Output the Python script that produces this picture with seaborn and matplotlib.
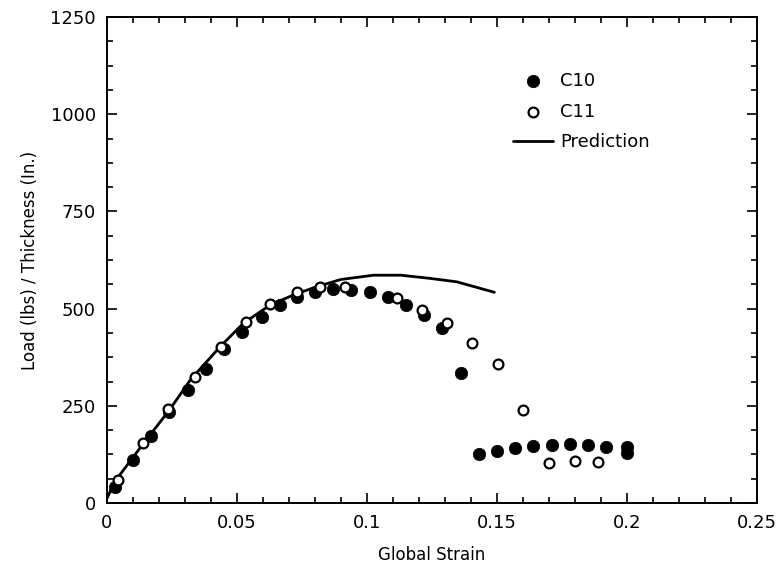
import numpy as np
import pandas as pd
import seaborn as sns
import matplotlib.pyplot as plt
from matplotlib.ticker import MultipleLocator

# specimen C10 (filled)
c10_strain = [0.003, 0.010, 0.017, 0.024, 0.031, 0.038, 0.045, 0.052, 0.0595, 0.0665,
              0.073, 0.080, 0.087, 0.094, 0.101, 0.108, 0.115, 0.122, 0.129, 0.136,
              0.143, 0.150, 0.157, 0.164, 0.171, 0.178, 0.185, 0.192, 0.200, 0.200]
c10_load = [42, 110, 172, 235, 290, 346, 395, 441, 479, 509,
            529, 542, 550, 548, 543, 531, 509, 484, 451, 334,
            125, 134, 142, 147, 149, 151, 149, 145, 145, 129]

# specimen C11 (open)
c11_strain = [0.0044, 0.0137, 0.0236, 0.034, 0.044, 0.0533, 0.0627, 0.073, 0.082, 0.0915,
              0.1114, 0.1213, 0.1307, 0.1405, 0.1503, 0.160, 0.170, 0.180, 0.189]
c11_load = [59, 155, 243, 325, 402, 466, 512, 542, 555, 556,
            528, 496, 462, 411, 357, 239, 102, 109, 106]

# prediction curve
pred_strain = [0.0, 0.003, 0.014, 0.024, 0.032, 0.0435, 0.0524, 0.0627, 0.073, 0.083,
               0.090, 0.1025, 0.113, 0.124, 0.1345, 0.149]
pred_load = [12, 55, 153, 239, 316, 402, 462, 509, 539, 561,
             575, 586, 586, 578, 569, 542]

c10 = pd.DataFrame({'strain': c10_strain, 'load': c10_load})
c11 = pd.DataFrame({'strain': c11_strain, 'load': c11_load})
pred = pd.DataFrame({'strain': pred_strain, 'load': pred_load})

sns.set_style('ticks')
plt.rcParams['font.family'] = ['DejaVu Sans']
plt.rcParams['text.color'] = 'black'
plt.rcParams['axes.labelcolor'] = 'black'
plt.rcParams['xtick.color'] = 'black'
plt.rcParams['ytick.color'] = 'black'

fig = plt.figure(figsize=(7.78, 5.68), dpi=100)
ax = fig.add_axes([0.1375, 0.1144, 0.8355, 0.8556])

sns.scatterplot(x='strain', y='load', data=c10, ax=ax, color='black', s=80,
                edgecolor='black', linewidth=0.5, label='C10', zorder=3)
sns.scatterplot(x='strain', y='load', data=c11, ax=ax, facecolor='white', s=50,
                edgecolor='black', linewidth=1.6, label='C11', zorder=4)
sns.lineplot(x='strain', y='load', data=pred, ax=ax, color='black', linewidth=2,
             label='Prediction', sort=False, zorder=2)

ax.set_xlim(0, 0.25)
ax.set_ylim(0, 1250)
ax.xaxis.set_major_locator(MultipleLocator(0.05))
ax.xaxis.set_minor_locator(MultipleLocator(0.01))
ax.yaxis.set_major_locator(MultipleLocator(250))
ax.yaxis.set_minor_locator(MultipleLocator(62.5))
ax.set_xticks([0, 0.05, 0.1, 0.15, 0.2, 0.25])
ax.set_xticklabels(['0', '0.05', '0.1', '0.15', '0.2', '0.25'])
ax.tick_params(which='both', direction='in', top=True, right=True, width=1.2)
ax.tick_params(which='major', length=7, labelsize=13, pad=8)
ax.tick_params(which='minor', length=4)
for s in ax.spines.values():
    s.set_linewidth(1.4)
    s.set_color('black')

ax.set_xlabel('Global Strain', fontsize=12, labelpad=10)
ax.set_ylabel('Load (lbs) / Thickness (In.)', fontsize=12, labelpad=8)

ax.legend(loc='upper left', bbox_to_anchor=(0.6, 0.92), frameon=False, fontsize=13,
          handlelength=2.2, handletextpad=0.4, labelspacing=0.7)

plt.savefig('out.png', dpi=100)
